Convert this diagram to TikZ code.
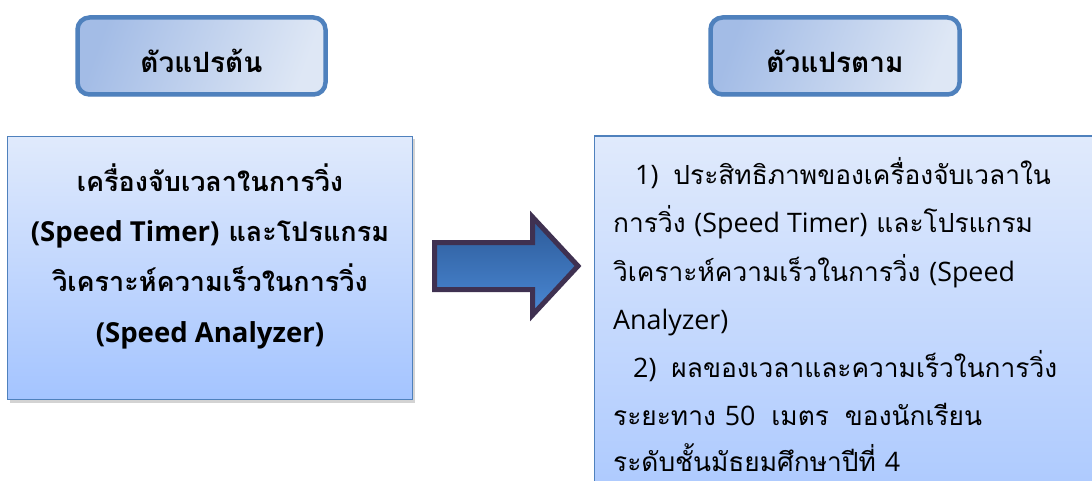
\documentclass[tikz,border=0pt]{standalone}
\usepackage{fontspec}
\newfontfamily\thai[Script=Thai]{Loma}
\newfontfamily\lat[Scale=1.02]{Open Sans}
\usetikzlibrary{shadows}
\definecolor{bordblue}{RGB}{79,129,189}
\definecolor{hdA}{RGB}{163,188,230}
\definecolor{hdB}{RGB}{222,231,245}
\definecolor{bxA}{RGB}{224,234,252}
\definecolor{bxB}{RGB}{164,196,255}
\definecolor{arA}{RGB}{44,90,152}
\definecolor{arB}{RGB}{74,136,212}
\definecolor{arline}{RGB}{63,49,81}
\tikzset{
  hdbox/.style={draw=bordblue, line width=4.5pt, rounded corners=12pt,
    top color=hdA, bottom color=hdB, shading angle=70,
    minimum width=248pt, minimum height=77pt, inner sep=0pt,
    drop shadow={shadow xshift=1pt, shadow yshift=-2pt, opacity=0.25}},
  mainbox/.style={draw=bordblue, line width=1.5pt,
    top color=bxA, bottom color=bxB, inner sep=0pt,
    drop shadow={shadow xshift=2pt, shadow yshift=-3pt, opacity=0.35}},
  hdtext/.style={font=\thai\bfseries\fontsize{28pt}{32pt}\selectfont, anchor=base, inner sep=0pt},
  ltext/.style={font=\thai\bfseries\fontsize{27pt}{31pt}\selectfont, anchor=base, inner sep=0pt},
  rtext/.style={font=\thai\fontsize{26.3pt}{31pt}\selectfont, anchor=base west, inner sep=0pt},
  bigarrow/.style={draw=arline, line width=5pt, line join=miter, top color=arA, bottom color=arB}
}
\begin{document}
\begin{tikzpicture}[x=1pt,y=-1pt]
\useasboundingbox (0,0) rectangle (1092,481);
\clip (0,0) rectangle (1092,481);
% headers
\node[hdbox] (hleft) at (201.5,56) {};
\node[hdbox, minimum width=249pt] (hright) at (835,56) {};
\node[hdtext] (hlt) at (201.5,73) {ตัวแปรต้น};
\node[hdtext] (hrt) at (835,73) {ตัวแปรตาม};
% left box
\node[mainbox, minimum width=405pt, minimum height=263pt] (left) at (210,268) {};
\node[ltext] (l1) at (210,192) {เครื่องจับเวลาในการวิ่ง};
\node[ltext] (l2) at (210,241) {{\lat (Speed Timer)} และโปรแกรม};
\node[ltext] (l3) at (210,291) {วิเคราะห์ความเร็วในการวิ่ง};
\node[ltext] (l4) at (210,342) {{\lat (Speed Analyzer)}};
% arrow
\path[bigarrow] (434.5,242.5) -- (532.5,242.5) -- (532.5,217) -- (578,266)
  -- (532.5,315) -- (532.5,289.5) -- (434.5,289.5) -- cycle;
% right box
\node[mainbox, minimum width=600pt, minimum height=420pt, anchor=north west] (right) at (593.5,135.5) {};
\node[rtext] (r1) at (635,185) {{\lat 1)}\hspace{15pt}ประสิทธิภาพของเครื่องจับเวลาใน};
\node[rtext] (r2) at (613,233) {การวิ่ง {\lat (Speed Timer)} และโปรแกรม};
\node[rtext] (r3) at (613,281) {วิเคราะห์ความเร็วในการวิ่ง {\lat (Speed}};
\node[rtext] (r4) at (613,329) {{\lat Analyzer)}};
\node[rtext] (r5) at (633,377) {{\lat 2)}\hspace{15pt}ผลของเวลาและความเร็วในการวิ่ง};
\node[rtext] (r6) at (613,425) {ระยะทาง {\lat 50}\hspace{16pt}เมตร\hspace{16pt}ของนักเรียน};
\node[rtext] (r7) at (613,471) {ระดับชั้นมัธยมศึกษาปีที่ {\lat 4}};
\end{tikzpicture}
\end{document}
